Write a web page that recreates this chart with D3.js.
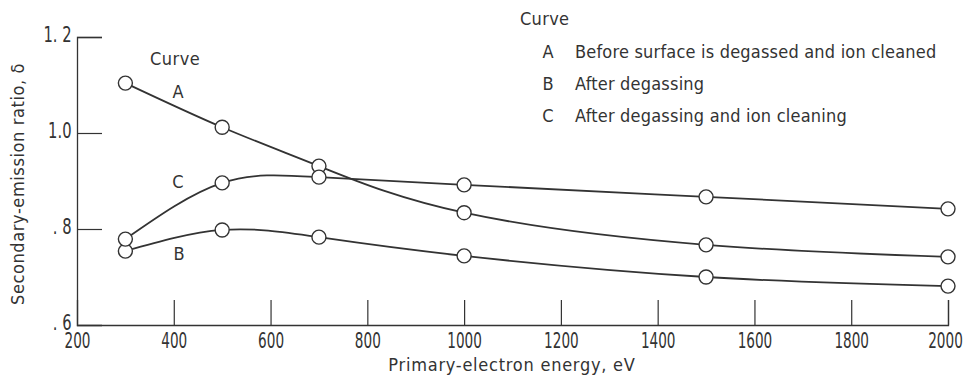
<!DOCTYPE html>
<html><head><meta charset="utf-8">
<script src="https://cdn.jsdelivr.net/npm/d3@7"></script>
<style>
body{margin:0;background:#fff;}
svg text{font-family:"DejaVu Sans Condensed","DejaVu Sans",sans-serif;fill:#333;}
</style></head>
<body><svg id="c" width="965" height="375"></svg>
<script>
const energies = [300, 500, 700, 1000, 1500, 2000];
const curveA = [1.104, 1.012, 0.931, 0.834, 0.767, 0.742];
const curveB = [0.754, 0.798, 0.783, 0.744, 0.700, 0.681];
const curveC = [0.779, 0.896, 0.908, 0.892, 0.867, 0.842];
const xTicks = [200, 400, 600, 800, 1000, 1200, 1400, 1600, 1800, 2000];
const yTicks = [0.6, 0.8, 1.0, 1.2];
const yTickLabels = [". 6", ". 8", "1.0", "1. 2"];
const legendKeys = ["A", "B", "C"];
const legendTexts = ["Before surface is degassed and ion cleaned", "After degassing", "After degassing and ion cleaning"];

const svg = d3.select("#c");
const ink = "#333";
const x = d3.scaleLinear().domain([200, 2000]).range([77, 948]);
const y = d3.scaleLinear().domain([0.6, 1.2]).range([325, 37]);

// axes
const xAxis = d3.axisBottom(x).tickValues(xTicks).tickSize(-25).tickFormat(d3.format("d"));
const gx = svg.append("g").attr("transform", "translate(0,325)").call(xAxis);
gx.select(".domain").attr("stroke", ink).attr("stroke-width", 1.3);
gx.selectAll(".tick line").attr("stroke", ink).attr("stroke-width", 1.2)
  .attr("display", d => d === 200 ? "none" : null);
gx.selectAll(".tick text").attr("font-size", 21).attr("dy", "0").attr("y", 23)
  .attr("transform", d => d === 2000 ? "translate(-3,0) scale(0.72,1)" : "scale(0.72,1)")
  .attr("font-family", "'DejaVu Sans Condensed'").attr("fill", "#333");

const yAxis = d3.axisLeft(y).tickValues(yTicks).tickSize(-25)
  .tickFormat((d, i) => yTickLabels[i]);
const gy = svg.append("g").attr("transform", "translate(77,0)").call(yAxis);
gy.select(".domain").attr("stroke", ink).attr("stroke-width", 1.3);
gy.selectAll(".tick line").attr("stroke", ink).attr("stroke-width", 1.2)
  .attr("display", d => d === 0.6 ? "none" : null);
gy.selectAll(".tick text").attr("font-size", 21).attr("x", -7).attr("dy", "0.2em")
  .attr("transform", "scale(0.78,1)")
  .attr("font-family", "'DejaVu Sans Condensed'").attr("fill", "#333");

// axis titles
svg.append("text").attr("x", 512).attr("y", 371).attr("text-anchor", "middle")
  .attr("font-size", 18).attr("letter-spacing", 0.75).text("Primary-electron energy, eV");
svg.append("text").attr("transform", "translate(24,184) rotate(-90)").attr("text-anchor", "middle")
  .attr("font-size", 18).attr("letter-spacing", 0.6).text("Secondary-emission ratio, δ");

// curves
const line = d3.line().x(d => x(d[0])).y(d => y(d[1])).curve(d3.curveNatural);
const series = [curveA, curveB, curveC];
series.forEach(vals => {
  const pts = energies.map((e, i) => [e, vals[i]]);
  svg.append("path").datum(pts).attr("d", line).attr("fill", "none")
    .attr("stroke", ink).attr("stroke-width", 1.8);
});
series.forEach(vals => {
  svg.selectAll(null).data(energies.map((e, i) => [e, vals[i]])).enter()
    .append("circle").attr("cx", d => x(d[0])).attr("cy", d => y(d[1])).attr("r", 7)
    .attr("fill", "#fff").attr("stroke", ink).attr("stroke-width", 1.4);
});

// in-plot labels
svg.append("text").attr("x", 150).attr("y", 65).attr("font-size", 18).attr("letter-spacing", 0.5).text("Curve");
svg.append("text").attr("x", 178).attr("y", 98).attr("text-anchor", "middle").attr("font-size", 18).text("A");
svg.append("text").attr("x", 178).attr("y", 188).attr("text-anchor", "middle").attr("font-size", 18).text("C");
svg.append("text").attr("x", 179).attr("y", 260).attr("text-anchor", "middle").attr("font-size", 18).text("B");

// legend
svg.append("text").attr("x", 520).attr("y", 25).attr("font-size", 18).attr("letter-spacing", 0.3).text("Curve");
legendKeys.forEach((k, i) => {
  const yy = 58 + i * 32;
  svg.append("text").attr("x", 548).attr("y", yy).attr("text-anchor", "middle").attr("font-size", 18).text(k);
  svg.append("text").attr("x", 575).attr("y", yy).attr("font-size", 18).attr("letter-spacing", 0.2).text(legendTexts[i]);
});
</script></body></html>
